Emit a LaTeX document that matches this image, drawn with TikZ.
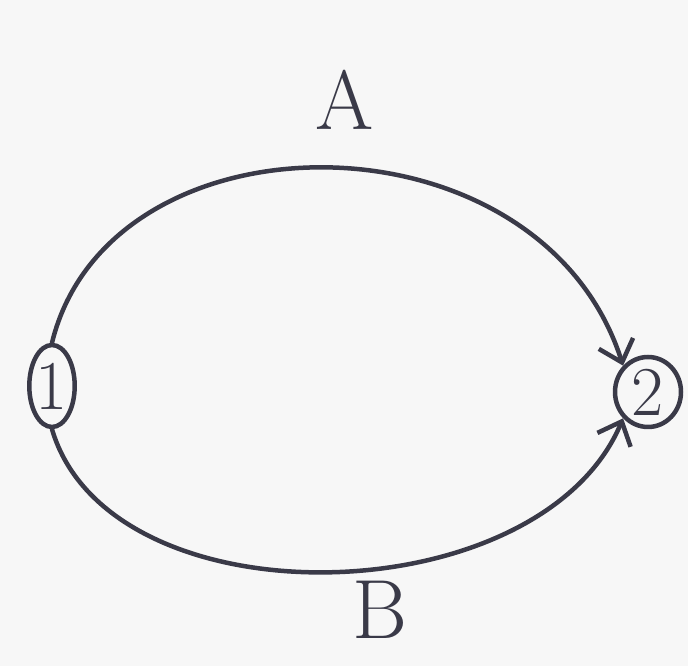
\documentclass[tikz,border=0pt]{standalone}
\usepackage{fontspec}
\usetikzlibrary{shapes.geometric,arrows.meta}
\definecolor{ink}{HTML}{3A3A48}
\definecolor{paper}{HTML}{F7F7F7}
\tikzset{
  penline/.style={draw=ink,line width=4.5pt,line cap=round,line join=round},
  statenode/.style={penline,ellipse,inner sep=0pt,text=ink,font=\fontsize{70}{70}\selectfont},
  lbl/.style={text=ink,font=\fontsize{84}{84}\selectfont},
  tip/.style={-{Straight Barb[length=20pt,width=36pt,line width=4.5pt]}}
}
\begin{document}
\begin{tikzpicture}[x=1pt,y=1pt]
\fill[paper] (0,0) rectangle (688,666);
\useasboundingbox (0,0) rectangle (688,666);
\node[statenode,minimum width=40pt,minimum height=82pt] (n1) at (52,280) {1};
\node[statenode,minimum width=66pt,minimum height=70pt] (n2) at (648,274) {2};
\node[lbl] (A) at (345,566) {A};
\node[lbl] (B) at (380,56) {B};
\draw[penline,tip] (n1.north) .. controls (110,560) and (540,560) .. (n2.north west);
\draw[penline,tip] (n1.south) .. controls (110,40) and (540,50) .. (n2.south west);
\end{tikzpicture}
\end{document}
